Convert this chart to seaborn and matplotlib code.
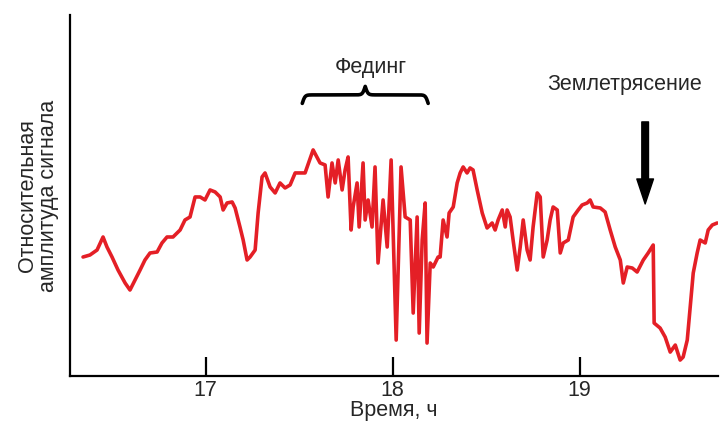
import numpy as np
import pandas as pd
import matplotlib
matplotlib.use("Agg")
import matplotlib.pyplot as plt
import seaborn as sns

# ---- data ----
time_h = [16.345, 16.382, 16.420, 16.452, 16.473, 16.500, 16.532, 16.570, 16.596, 16.623,
          16.650, 16.676, 16.703, 16.741, 16.767, 16.794, 16.826, 16.864, 16.890, 16.917,
          16.944, 16.971, 16.997, 17.024, 17.051, 17.078, 17.094, 17.115, 17.142, 17.158,
          17.184, 17.201, 17.222, 17.238, 17.265, 17.281, 17.302, 17.318, 17.345, 17.372,
          17.398, 17.425, 17.452, 17.479, 17.532, 17.575,
          17.612, 17.639, 17.655, 17.676, 17.693, 17.709, 17.730, 17.746, 17.762, 17.778,
          17.789, 17.810, 17.821, 17.842, 17.853, 17.869, 17.890, 17.906, 17.922, 17.949,
          17.971, 17.992, 18.019, 18.045, 18.067, 18.094, 18.110, 18.131, 18.142, 18.158,
          18.174, 18.184, 18.201, 18.217, 18.243,
          18.254, 18.270, 18.291, 18.302, 18.324, 18.345, 18.361, 18.377,
          18.398, 18.414, 18.430, 18.452, 18.479, 18.505, 18.532, 18.548, 18.564, 18.586,
          18.602, 18.612, 18.628, 18.644, 18.666, 18.682, 18.698, 18.719, 18.735, 18.751,
          18.773, 18.789, 18.805, 18.826, 18.842, 18.858, 18.880, 18.896, 18.912, 18.939,
          18.965, 18.992, 19.013, 19.040, 19.056, 19.072, 19.110, 19.136, 19.163, 19.190,
          19.217, 19.233, 19.254, 19.281, 19.307, 19.340, 19.366, 19.393, 19.398, 19.430,
          19.457, 19.484, 19.511, 19.537, 19.553, 19.575, 19.591, 19.607, 19.628, 19.644,
          19.671, 19.687, 19.709, 19.735]
amplitude = [11.9, 12.1, 12.6, 13.9, 12.9, 11.9, 10.6, 9.3, 8.6, 9.6,
             10.6, 11.6, 12.3, 12.4, 13.3, 13.9, 13.9, 14.6, 15.6, 15.9,
             17.9, 17.9, 17.6, 18.6, 18.4, 17.9, 16.6, 17.3, 17.4, 16.8,
             14.9, 13.6, 11.6, 11.9, 12.6, 16.3, 19.9, 20.3, 18.9, 18.3,
             19.3, 18.8, 19.1, 20.3, 20.3, 22.6,
             21.3, 21.1, 17.9, 21.3, 19.3, 21.6, 18.6, 20.6, 21.9, 14.6,
             16.9, 19.3, 14.9, 21.3, 15.6, 17.6, 14.9, 20.9, 11.3, 17.6,
             12.9, 21.6, 3.6, 20.9, 15.9, 15.6, 6.3, 15.9, 4.3, 13.6,
             17.3, 3.3, 11.3, 10.9, 11.9,
             11.9, 15.6, 13.9, 16.3, 16.9, 19.3, 20.3, 20.9,
             20.3, 20.8, 20.6, 18.6, 16.3, 14.8, 15.3, 14.6, 15.6, 16.6,
             14.9, 16.6, 15.9, 13.6, 10.6, 12.9, 15.6, 12.6, 11.6, 14.9,
             18.3, 17.9, 11.9, 13.6, 15.6, 16.9, 16.6, 12.3, 13.3, 13.6,
             15.9, 16.6, 17.1, 17.3, 17.6, 16.9, 16.8, 16.4, 14.6, 12.9,
             11.6, 9.3, 10.9, 10.8, 10.4, 11.6, 12.3, 13.1, 5.3, 4.8,
             3.9, 2.4, 3.1, 1.6, 1.9, 3.6, 6.9, 10.3, 12.3, 13.6,
             13.3, 14.6, 15.1, 15.3]
x_ticks = [17, 18, 19]
x_tick_labels = ["17", "18", "19"]
fading_start, fading_end = 17.517, 18.190
quake_time = 19.35

df = pd.DataFrame({"t": time_h, "a": amplitude})

sns.set_theme(style="white")
plt.rcParams["font.family"] = ["Liberation Sans", "DejaVu Sans"]

FS = 15.5

fig = plt.figure(figsize=(7.21, 4.24), dpi=100)
ax = fig.add_axes([0.097, 0.113, 0.899, 0.852])

sns.lineplot(data=df, x="t", y="a", ax=ax, color="#e41f26", linewidth=2.6,
             estimator=None, sort=False)

ax.set_xlim(16.275, 19.74)
ax.set_ylim(0, 36.1)
ax.set_xticks(x_ticks)
ax.set_xticklabels(x_tick_labels, fontsize=FS)
ax.set_yticks([])
ax.tick_params(axis="x", direction="in", length=14, width=1.6, color="black",
               pad=3, bottom=True)
for side in ["top", "right"]:
    ax.spines[side].set_visible(False)
for side in ["left", "bottom"]:
    ax.spines[side].set_color("black")
    ax.spines[side].set_linewidth(1.6)

ax.set_xlabel("Время, ч", fontsize=FS, labelpad=-1)
ax.set_ylabel("Относительная\nамплитуда сигнала", fontsize=FS, labelpad=8,
              linespacing=1.0)

# curly brace over fading interval
xs = np.linspace(fading_start, fading_end, 401)
half = xs[:201]
beta = 140.0
yh = 1 / (1 + np.exp(-beta * (half - half[0]))) + 1 / (1 + np.exp(-beta * (half - half[-1])))
yb = np.concatenate([yh, yh[-2::-1]])
ax.plot(xs, 26.4 + 1.7 * yb, color="black", linewidth=2.6, clip_on=False,
        solid_capstyle="round")
ax.text((fading_start + fading_end) / 2 + 0.03, 30.8, "Фединг", fontsize=FS,
        ha="center", va="center")

# earthquake marker
ax.text(19.238, 29.1, "Землетрясение", fontsize=FS, ha="center", va="center")
ax.annotate("", xy=(quake_time, 17.2), xytext=(quake_time, 25.4),
            arrowprops=dict(arrowstyle="simple,head_length=0.9,head_width=0.6,tail_width=0.24",
                            mutation_scale=20, color="black", shrinkA=0, shrinkB=0))

fig.savefig("out.png", dpi=100)
